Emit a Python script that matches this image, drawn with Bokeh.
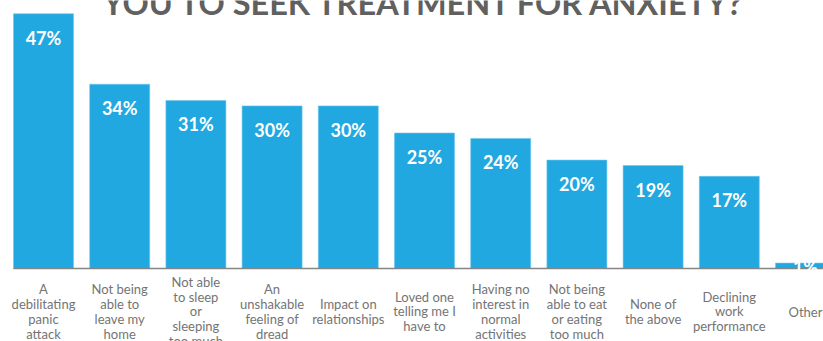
from bokeh.plotting import figure
from bokeh.models import Range1d, ColumnDataSource
from bokeh.core.properties import value
from bokeh.embed import file_html
from bokeh.resources import INLINE

# ---- data ----
title_text = "YOU TO SEEK TREATMENT FOR ANXIETY?"
categories = [
    "A\ndebilitating\npanic\nattack",
    "Not being\nable to\nleave my\nhome",
    "Not able\nto sleep\nor\nsleeping\ntoo much",
    "An\nunshakable\nfeeling of\ndread",
    "Impact on\nrelationships",
    "Loved one\ntelling me I\nhave to",
    "Having no\ninterest in\nnormal\nactivities",
    "Not being\nable to eat\nor eating\ntoo much",
    "None of\nthe above",
    "Declining\nwork\nperformance",
    "Other",
]
percentages = [47, 34, 31, 30, 30, 25, 24, 20, 19, 17, 1]

# ---- layout ----
W, H = 823, 341
px_per_cat = 76.2
first_center_px = 43
baseline_px = 268
px_per_pct = 5.42

x_start = -first_center_px / px_per_cat
x_end = x_start + W / px_per_cat
y_end = baseline_px / px_per_pct
y_start = -(H - baseline_px) / px_per_pct
bar_w = 60 / px_per_cat

idx = list(range(len(categories)))
labels = [f"{v}%" for v in percentages]
label_off = [24 if v * px_per_pct > 30 else 4 for v in percentages]

src = ColumnDataSource(dict(x=idx, top=percentages, cat=categories,
                            lab=labels, off=label_off))

p = figure(width=W, height=H, x_range=Range1d(x_start, x_end),
           y_range=Range1d(y_start, y_end), output_backend="svg",
           toolbar_location=None, x_axis_location=None, y_axis_location=None,
           min_border=0)
p.grid.visible = False
p.outline_line_color = None
p.background_fill_color = "white"
p.border_fill_color = "white"

bar_color = "#22a8e0"
p.vbar(x="x", top="top", bottom=0, width=bar_w, source=src,
       fill_color=bar_color, line_color="#6cc6ec", line_width=0.6)

p.segment(x0=[-bar_w / 2], x1=[x_end], y0=[0], y1=[0],
          line_color="#858585", line_width=1.6)

p.text(x="x", y="top", text="lab", y_offset="off", source=src,
       text_align="center", text_baseline="middle",
       text_font=value("Lato"), text_font_style="bold",
       text_font_size="18px", text_color="white")

p.text(x="x", y=0, text="cat", y_offset=43, source=src,
       text_align="center", text_baseline="middle",
       text_font=value("Lato"), text_font_size="13px",
       text_line_height=0.93, text_color="#747474")

p.text(x=[(len(categories) - 1) / 2], y=[y_end], text=[title_text],
       y_offset=2, text_align="center", text_baseline="alphabetic",
       text_font=value("Lato"), text_font_style="bold",
       text_font_size="32.5px", text_color="#606060")

open("out.html", "w").write(file_html(p, INLINE))
